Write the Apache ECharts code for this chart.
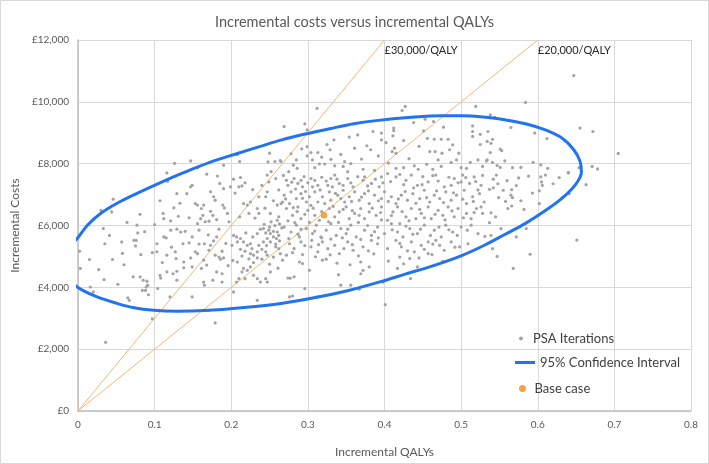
<!DOCTYPE html>
<html><head><meta charset="utf-8">
<script src="https://cdn.jsdelivr.net/npm/echarts@6/dist/echarts.min.js"></script>
<style>html,body{margin:0;padding:0;background:#fff}#c{width:709px;height:464px}</style>
</head><body><div id="c"></div><script>
const chartTitle = 'Incremental costs versus incremental QALYs';
const xName = 'Incremental QALYs';
const yName = 'Incremental Costs';
const xMin = 0, xMax = 0.8, xStep = 0.1;
const yMin = 0, yMax = 12000, yStep = 2000;

// PSA iterations [incremental QALYs, incremental costs (£)]
const psaIterations = [
[0.126,8010],[0.147,8090],[0.156,7870],[0.190,7950],[0.208,8300],[0.211,8070],[0.250,8340],[0.248,8060],[0.257,8070],[0.264,8100],[0.252,7740],
[0.269,9200],[0.312,9790],[0.296,9290],[0.299,9090],[0.299,8550],[0.299,8250],[0.304,8360],[0.313,8360],[0.318,8210],[0.329,8450],[0.334,8770],[0.306,8120],[0.330,8140],[0.278,8320],[0.285,8120],[0.322,7990],[0.346,7910],[0.348,8070],[0.354,8860],[0.365,8930],[0.361,8500],[0.377,8580],[0.382,8450],[0.385,9040],[0.396,8990],[0.396,8770],[0.402,8680],[0.412,9150],[0.412,9070],[0.411,8900],[0.413,8500],[0.415,8340],[0.410,8390],[0.423,9720],[0.427,9850],[0.425,8750],[0.438,9330],[0.451,9060],[0.453,9440],[0.456,8820],[0.459,8390],[0.466,8390],[0.464,9360],[0.465,8790],[0.474,8790],[0.477,9180],[0.475,8340],[0.483,8790],[0.485,8450],[0.489,8610],[0.494,8120],[0.487,8040],[0.500,7870],[0.509,9550],[0.515,9220],[0.515,9040],[0.515,8880],[0.519,9850],[0.525,8950],[0.522,8120],[0.528,7910],[0.533,8090],[0.439,7930],[0.444,7820],[0.425,7870],[0.415,7850],[0.387,7780],[0.352,7740],[0.335,7930],[0.315,7990],[0.309,7870],[0.275,7740],[0.265,8070],[0.286,7850],[0.463,7820],[0.474,7910],[0.507,7850],
[0.647,10850],[0.584,9980],[0.538,9580],[0.544,9500],[0.565,9170],[0.596,8990],[0.612,8810],[0.655,9150],[0.672,9040],[0.535,9040],[0.541,8790],[0.539,8660],[0.534,8720],[0.538,8360],[0.551,8470],[0.553,8420],[0.534,8120],[0.541,8040],[0.547,7940],[0.551,7880],[0.557,8090],[0.567,7870],[0.578,7880],[0.594,8040],[0.604,7960],[0.613,7850],[0.640,7720],[0.654,7870],[0.671,7910],[0.678,7830],[0.705,8330],
[0.546,7630],[0.542,7500],[0.537,7170],[0.542,7220],[0.555,7140],[0.566,7160],[0.575,7540],[0.565,6980],[0.567,6900],[0.558,6780],[0.566,6630],[0.582,6520],[0.539,6410],[0.537,6090],[0.531,5650],[0.539,5680],[0.541,5250],[0.547,5000],[0.572,5630],[0.590,5070],[0.568,4610],[0.651,5530],[0.604,7570],[0.610,7630],[0.605,7410],[0.606,7300],[0.602,7120],[0.602,6710],[0.640,7700],[0.663,7320],[0.641,7030],[0.632,6900],
[0.036,2220],[0.097,2980],[0.171,3250],[0.179,2850],[0.401,3440],
[0.046,6850],[0.030,6490],[0.044,6440],[0.020,6190],[0.002,5170],[0.003,4610],[0.027,4570],[0.041,5680],[0.035,5410],[0.034,4250],[0.057,5470],[0.016,4010],[0.020,3850],[0.065,3660],[0.067,3580],[0.052,4100],[0.060,4730],[0.077,6010],[0.081,6360],[0.078,5760],[0.073,5520],[0.076,5520],[0.075,5340],[0.082,5060],[0.081,4340],[0.072,4340],[0.085,4230],[0.090,4200],[0.091,4070],[0.084,3900],[0.088,3900],[0.092,3760],[0.089,4010],[0.097,5120],[0.100,6030],[0.104,3960],[0.111,6390],[0.112,6220],[0.125,6570],[0.129,7030],[0.131,6300],[0.116,7700],[0.142,7030],[0.147,7250],[0.149,7300],[0.156,6660],[0.153,6710],[0.164,6660],[0.161,6550],[0.163,6330],[0.168,7660],[0.173,7090],[0.177,6930],[0.179,6820],[0.173,6460],[0.176,6330],[0.171,6140],[0.166,6120],[0.160,6220],[0.156,6060],[0.182,7600],[0.185,7360],[0.190,7190],[0.189,6660],[0.191,6570],[0.195,6390],[0.197,6120],[0.181,6190],[0.117,7430],[0.129,5880],[0.121,5850],[0.112,5630],[0.115,5600],[0.103,5410],[0.103,5150],[0.116,5040],[0.127,5150],[0.128,4930],[0.138,4820],[0.134,5790],[0.140,5810],[0.149,5630],[0.137,5410],[0.145,5440],[0.153,5150],[0.156,5090],[0.165,5410],[0.171,5200],[0.173,5360],[0.177,5500],[0.181,5630],[0.179,5040],[0.184,4980],[0.186,4910],[0.190,4950],[0.188,5170],[0.164,4880],[0.161,4610],[0.149,4660],[0.138,4630],[0.129,4520],[0.116,4500],[0.107,4390],[0.108,4300],[0.124,4440],[0.129,4230],[0.164,4170],[0.165,4070],[0.176,4230],[0.188,4170],[0.188,4440],[0.181,4500],[0.149,3690],[0.120,3690],
[0.203,7500],[0.212,7550],[0.210,7250],[0.214,7280],[0.211,6280],[0.216,6710],[0.221,6660],[0.225,6760],[0.223,6390],[0.234,6550],[0.236,6390],[0.236,6930],[0.245,6930],[0.247,7630],[0.249,7410],[0.247,7090],[0.255,6800],[0.260,6660],[0.265,6710],[0.251,6390],[0.262,6280],[0.260,6170],[0.203,5680],[0.207,5630],[0.212,5580],[0.208,5470],[0.216,5470],[0.201,5360],[0.221,5360],[0.225,5410],[0.212,5230],[0.218,5170],[0.225,5090],[0.234,5740],[0.242,5900],[0.245,5760],[0.249,5850],[0.251,5740],[0.255,5810],[0.260,5790],[0.262,5680],[0.266,5920],[0.255,5630],[0.259,5580],[0.247,5580],[0.251,5470],[0.242,5470],[0.236,5360],[0.240,5230],[0.234,5150],[0.229,5040],[0.234,4950],[0.240,4910],[0.245,5150],[0.247,5040],[0.258,5310],[0.262,5250],[0.264,5090],[0.255,4980],[0.202,4870],[0.208,4820],[0.216,4610],[0.214,4500],[0.221,4550],[0.225,4660],[0.210,4280],[0.218,4280],[0.207,4170],[0.229,4390],[0.234,4280],[0.238,4170],[0.245,4280],[0.251,4500],[0.247,4170],[0.203,3850],[0.234,3580],[0.199,7250],
[0.272,7460],[0.274,7300],[0.282,7520],[0.287,7360],[0.291,7460],[0.293,7250],[0.304,7520],[0.309,7460],[0.306,7250],[0.313,7300],[0.326,7300],[0.330,7520],[0.335,7630],[0.332,7250],[0.341,7360],[0.352,7520],[0.359,7250],[0.372,7460],[0.374,7570],[0.383,7360],[0.393,7250],[0.396,7570],[0.404,7680],[0.415,7570],[0.428,7460],[0.435,7630],[0.443,7300],[0.457,7410],[0.463,7610],[0.467,7630],[0.478,7250],[0.487,7300],[0.491,7520],[0.502,7630],[0.500,7410],[0.511,7360],[0.517,7570],[0.526,7300],
[0.269,6980],[0.278,7090],[0.267,6760],[0.276,6710],[0.285,6870],[0.291,7030],[0.298,6760],[0.302,6930],[0.309,7090],[0.313,6760],[0.319,6930],[0.322,6710],[0.328,7090],[0.330,6820],[0.339,6980],[0.346,7140],[0.348,6760],[0.354,6930],[0.361,7090],[0.367,6820],[0.374,7030],[0.380,6710],[0.387,6980],[0.396,6870],[0.400,7090],[0.409,6930],[0.415,6710],[0.422,6980],[0.430,6820],[0.437,7030],[0.446,6870],[0.452,7140],[0.459,6760],[0.465,6980],[0.472,6870],[0.480,7090],[0.487,6820],[0.494,6980],[0.504,7140],[0.507,6710],[0.515,6930],[0.524,7030],[0.530,6760],
[0.272,6550],[0.280,6330],[0.287,6600],[0.291,6220],[0.300,6490],[0.309,6330],[0.315,6170],[0.328,6550],[0.335,6280],[0.341,6440],[0.350,6600],[0.354,6220],[0.361,6390],[0.369,6550],[0.374,6220],[0.380,6440],[0.389,6330],[0.396,6600],[0.404,6170],[0.411,6440],[0.417,6600],[0.420,6060],[0.428,6280],[0.435,6550],[0.441,6220],[0.448,6390],[0.457,6600],[0.461,6220],[0.470,6490],[0.476,6330],[0.483,6600],[0.491,6280],[0.496,6550],[0.507,6390],[0.513,6220],[0.520,6550],[0.526,6600],[0.528,6390],
[0.269,5950],[0.278,5790],[0.285,6010],[0.289,5630],[0.298,5900],[0.306,5740],[0.311,6010],[0.317,5630],[0.324,5850],[0.330,6060],[0.337,5680],[0.343,5900],[0.350,5740],[0.356,6010],[0.363,5630],[0.374,5850],[0.383,5680],[0.391,5950],[0.400,5740],[0.409,6060],[0.417,5790],[0.424,5630],[0.433,5900],[0.443,5740],[0.452,6010],[0.465,5850],[0.474,5630],[0.480,6010],[0.489,5790],[0.500,5950],[0.513,6010],[0.522,5740],
[0.276,5410],[0.282,5250],[0.291,5470],[0.304,5310],[0.313,5150],[0.319,5470],[0.326,5250],[0.335,5360],[0.341,5090],[0.352,5470],[0.359,5200],[0.372,5310],[0.383,5520],[0.391,5410],[0.404,5250],[0.415,5520],[0.422,5310],[0.435,5470],[0.439,5150],[0.448,5360],[0.457,5090],[0.467,5520],[0.478,5200],[0.487,5470],[0.267,4880],[0.272,5040],[0.509,5410],[0.498,5310],
[0.289,4820],[0.293,4770],[0.302,4550],[0.319,4880],[0.324,4910],[0.369,4820],[0.372,4550],[0.369,4440],[0.340,4410],[0.274,4300],[0.277,4300],[0.282,4340],[0.296,3960],[0.276,3690],[0.280,3720],[0.313,3690],[0.343,4070],[0.356,4070],[0.367,3940],[0.398,4170],[0.417,4610],[0.434,4280],[0.443,4660],[0.476,4840],[0.420,4980],[0.433,4930],[0.457,5470],
[0.268,7620],[0.279,7400],[0.284,7180],[0.295,7580],[0.300,7380],[0.297,7100],[0.318,7560],[0.316,7150],[0.271,6860],[0.281,6580],[0.286,6450],[0.293,6880],[0.304,6650],[0.296,6360],[0.307,6560],[0.318,6450],[0.274,6150],[0.283,6090],[0.291,5880],[0.302,6100],[0.309,5820],[0.275,5580],[0.287,5720],[0.296,5350],[0.305,5520],[0.314,5380],[0.280,5120],[0.293,5060],[0.310,4990],[0.318,5600],
[0.324,7440],[0.338,7500],[0.346,7300],[0.356,7380],[0.365,7580],[0.378,7280],[0.388,7500],[0.398,7380],[0.336,7040],[0.343,6870],[0.357,6780],[0.370,6920],[0.379,7120],[0.392,6800],[0.333,6620],[0.346,6520],[0.358,6480],[0.367,6330],[0.384,6560],[0.395,6420],[0.327,6120],[0.340,6100],[0.352,5880],[0.366,6100],[0.378,6000],[0.387,5800],[0.396,6180],[0.330,5560],[0.345,5600],[0.358,5380],[0.369,5550],[0.379,5180],[0.392,5600],[0.329,5050],[0.347,5250],[0.366,5020],[0.386,5080],[0.338,4780],[0.355,4730],[0.380,4660],
[0.408,7420],[0.420,7650],[0.425,7320],[0.438,7220],[0.450,7580],[0.449,7320],[0.470,7440],[0.484,7560],[0.496,7380],[0.506,7550],[0.519,7420],[0.528,7620],[0.405,6780],[0.418,6860],[0.427,7100],[0.441,6720],[0.455,6900],[0.468,7120],[0.477,6740],[0.490,7060],[0.502,6850],[0.516,6780],[0.522,7150],[0.409,6320],[0.423,6450],[0.432,6150],[0.446,6520],[0.452,6250],[0.466,6360],[0.479,6180],[0.488,6470],[0.503,6250],[0.517,6420],[0.410,5860],[0.428,5980],[0.437,5720],[0.447,5880],[0.460,5680],[0.471,5950],[0.484,5860],[0.495,5680],[0.508,5850],[0.420,5420],[0.430,5180],[0.452,5230],[0.463,5400],[0.472,5360],[0.492,5300],[0.445,4950],[0.462,5060],[0.405,4850],[0.425,4760],
[0.205,7050],[0.218,7380],[0.228,7160],[0.240,7300],[0.258,7520],[0.262,7150],[0.231,6240],[0.244,6560],[0.252,6120],[0.243,6040],[0.257,6000],[0.263,6050],[0.250,5950],[0.238,5880],[0.228,5630],[0.219,5760],[0.263,5500],[0.258,5400],[0.246,5350],[0.227,5250],[0.214,5010],[0.229,4800],[0.250,4750],[0.261,4620],[0.223,4920],
[0.107,6800],[0.121,6150],[0.133,6720],[0.145,6250],[0.158,5850],[0.170,5700],[0.184,5880],[0.193,5420],[0.158,5400],[0.147,4950],[0.168,4720],[0.196,4700],[0.122,5300],[0.110,4800],[0.087,5800],[0.064,6100],[0.058,5100],[0.045,4900],[0.033,5900],[0.015,4900],
[0.548,7350],[0.560,7450],[0.572,7290],[0.588,7600],[0.620,7350],[0.628,7550],[0.549,6900],[0.561,6550],[0.578,6800],[0.593,7050],[0.545,6280],[0.552,5900],[0.585,5900],
[0.292,8480],[0.325,8620],[0.343,8300],[0.370,8150],[0.392,8250],[0.405,8020],[0.432,8160],[0.445,8560],[0.470,8120],[0.497,8340],[0.512,8040],[0.525,8620],[0.356,8000],[0.372,7820],[0.455,7980],[0.281,7950]
];

// 95% confidence ellipse outline (part left of 0 is clipped)
const confidenceEllipse = [
[-0.024,4800],[-0.015,5250],[-0.001,5580],[0.012,6000],[0.029,6380],[0.051,6720],[0.077,7040],[0.107,7380],[0.137,7700],[0.172,8040],[0.208,8330],[0.238,8560],[0.266,8770],[0.295,8950],[0.330,9140],[0.360,9290],[0.392,9400],[0.431,9490],[0.474,9550],[0.500,9550],[0.533,9500],[0.557,9420],[0.584,9290],[0.610,9090],[0.632,8820],[0.647,8450],[0.655,8090],[0.657,7730],[0.650,7350],[0.633,6910],[0.611,6500],[0.584,6070],[0.557,5710],[0.531,5370],[0.500,5020],[0.461,4680],[0.426,4420],[0.396,4190],[0.353,3900],[0.308,3660],[0.265,3480],[0.217,3350],[0.165,3250],[0.129,3230],[0.099,3260],[0.073,3340],[0.051,3480],[0.025,3690],[-0.001,4010],[-0.015,4400],[-0.024,4800]
];

const baseCase = [[0.321,6330]];

// Willingness-to-pay threshold lines
const wtp30Line = [[0,0],[0.4,12000]];
const wtp20Line = [[0,0],[0.6,12000]];
const wtp30Label = '£30,000/QALY';
const wtp20Label = '£20,000/QALY';

const FONT = 'Lato, "Open Sans", sans-serif';
function gbp(v){ return '£' + String(v).replace(/\B(?=(\d{3})+(?!\d))/g, ','); }

const chart = echarts.init(document.getElementById('c'), null, {renderer:'canvas'});

function wtpSeries(name, pts, label){
  return {
    name: name, type: 'line', data: pts.map((p,i)=> i===pts.length-1 ? {
        value: p,
        label: {show:true, formatter: label, position:[0,5], align:'left', verticalAlign:'top',
                color:'#262626', fontSize:11, fontFamily: FONT}
      } : {value:p}),
    symbol:'circle', symbolSize:0, showSymbol:true, silent:true,
    lineStyle:{color:'#F6B77C', width:1}, itemStyle:{color:'#F6B77C'},
    z:1, clip:false, animation:false
  };
}

const legendText = {fontFamily:FONT, fontSize:13, color:'#404040'};

chart.setOption({
  animation:false,
  backgroundColor:'#fff',
  title:{text: chartTitle, left:'center', top:10,
    textStyle:{fontFamily:FONT, fontSize:14.5, fontWeight:'normal', color:'#595959'}},
  grid:{left:78, right:18, top:40, bottom:53, containLabel:false},
  xAxis:{type:'value', min:xMin, max:xMax, interval:xStep,
    name:xName, nameLocation:'middle', nameGap:35,
    nameTextStyle:{fontFamily:FONT, fontSize:12, color:'#595959'},
    axisLine:{show:true, onZero:false, lineStyle:{color:'#BFBFBF', width:1.5}},
    axisTick:{show:false},
    axisLabel:{fontFamily:FONT, fontSize:10, color:'#595959', margin:9},
    splitLine:{show:true, lineStyle:{color:'#D9D9D9', width:1}}},
  yAxis:{type:'value', min:yMin, max:yMax, interval:yStep,
    name:yName, nameLocation:'middle', nameGap:56,
    nameTextStyle:{fontFamily:FONT, fontSize:12, color:'#595959'},
    axisLine:{show:true, onZero:false, lineStyle:{color:'#BFBFBF', width:1.5}},
    axisTick:{show:false},
    axisLabel:{fontFamily:FONT, fontSize:10, color:'#595959', margin:9, formatter: gbp},
    splitLine:{show:true, lineStyle:{color:'#D9D9D9', width:1}}},
  legend:[
    {data:['PSA Iterations'], left:514, top:327, itemWidth:14, itemHeight:4, icon:'circle', textStyle:legendText},
    {data:['95% Confidence Interval'], left:510, top:351, itemWidth:20, itemHeight:3, icon:'rect', textStyle:legendText},
    {data:['Base case'], left:514, top:377, itemWidth:14, itemHeight:7, icon:'circle', textStyle:legendText}
  ],
  graphic:[{type:'rect', shape:{x:0.5, y:0.5, width:708, height:463},
    style:{fill:'none', stroke:'#D9D9D9', lineWidth:1}, silent:true, z:-1}],
  series:[
    wtpSeries('wtp30', wtp30Line, wtp30Label),
    wtpSeries('wtp20', wtp20Line, wtp20Label),
    {name:'PSA Iterations', type:'scatter', data: psaIterations, symbolSize:3.2,
     itemStyle:{color:'#A3A3A3', opacity:1}, z:2},
    {name:'95% Confidence Interval', type:'line', data: confidenceEllipse, smooth:0.35,
     symbol:'none', clip:true, lineStyle:{color:'#2273F0', width:3}, itemStyle:{color:'#2273F0'}, z:3},
    {name:'Base case', type:'scatter', data: baseCase, symbolSize:6.5,
     itemStyle:{color:'#F28C18'}, z:5}
  ]
});
</script></body></html>
